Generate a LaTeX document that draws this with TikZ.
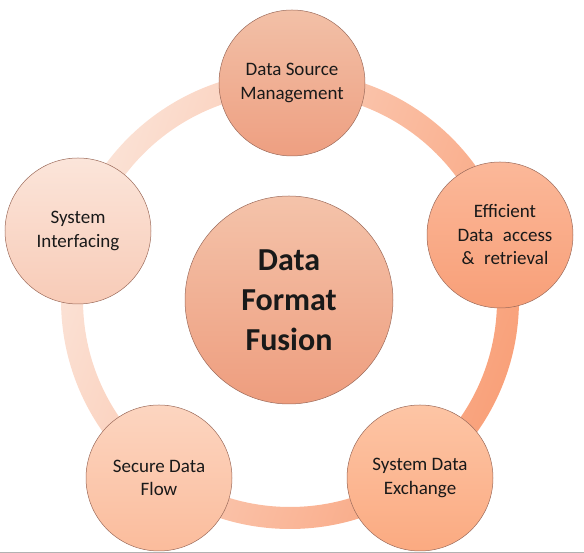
\documentclass[tikz,border=0pt]{standalone}
\usepackage{fontspec}
\setmainfont{Carlito}
\usetikzlibrary{positioning}

\definecolor{ringlight}{HTML}{FBE3D7}
\definecolor{ringdark}{HTML}{F9A17A}
\definecolor{rim}{HTML}{9C6B5B}
\definecolor{hubtop}{HTML}{F4C3AA}
\definecolor{hubbot}{HTML}{EE9D7E}
\definecolor{srctop}{HTML}{F2C0A7}
\definecolor{srcbot}{HTML}{EE9F81}
\definecolor{efftop}{HTML}{FBB899}
\definecolor{effbot}{HTML}{F89F78}
\definecolor{exctop}{HTML}{FDC5A5}
\definecolor{excbot}{HTML}{FBAA81}
\definecolor{sectop}{HTML}{FCD5C0}
\definecolor{secbot}{HTML}{FBBC9C}
\definecolor{inttop}{HTML}{FBE5DA}
\definecolor{intbot}{HTML}{F8CBB7}

\tikzset{
	item/.style={circle,draw=rim,line width=0.5pt,minimum size=146pt,inner sep=0pt,
		align=center,text=black!90,font=\fontsize{19}{23.5}\selectfont},
	hub/.style={item,minimum size=208pt,font=\bfseries\fontsize{32}{40}\selectfont}
}

\begin{document}
\begin{tikzpicture}[x=1pt,y=1pt]
		\useasboundingbox (0,0) rectangle (584,553);
		\coordinate (mid) at (290,253);
		
		% the shaded ring behind the circles
		\path[even odd rule,left color=ringlight,right color=ringdark,shading angle=70]
			(mid) circle[radius=229pt] (mid) circle[radius=207pt];
		
		% hub in the middle
		\node[hub,top color=hubtop,bottom color=hubbot] (fusion) at (289,253) {Data\\Format\\Fusion};
		
		% the five circles on the ring
		\node[item,top color=srctop,bottom color=srcbot] (source) at (292,470) {Data Source\\Management};
		\node[item,top color=efftop,bottom color=effbot] (access) at (500,318) {\hspace{10pt}Efficient\\\hspace{10pt}Data\hspace{0.5em}access\\\hspace{10pt}\&\hspace{0.5em}retrieval};
		\node[item,top color=exctop,bottom color=excbot] (exchange) at (420,75) {System Data\\Exchange};
		\node[item,top color=sectop,bottom color=secbot] (secure) at (159,75) {Secure Data\\Flow};
		\node[item,top color=inttop,bottom color=intbot] (interface) at (78,322) {System\\Interfacing};
		
		% page edge at the bottom
		\draw[black!30,line width=1.2pt] (0,0.6) -- (584,0.6);
\end{tikzpicture}
\end{document}
